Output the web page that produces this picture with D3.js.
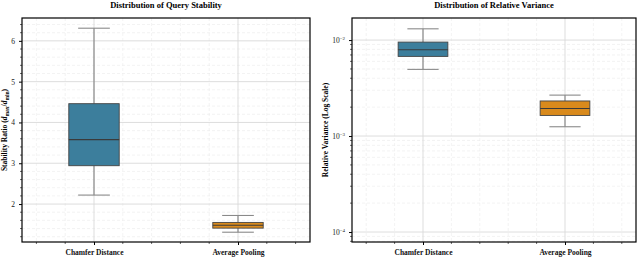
<!DOCTYPE html>
<html><head><meta charset="utf-8">
<script src="https://cdn.jsdelivr.net/npm/d3@7"></script>
<style>body{margin:0;background:#fff}svg{display:block}text{font-family:"Liberation Serif","DejaVu Serif",serif}</style>
</head><body><svg id="c" width="640" height="257"></svg>
<script>
const categories = ["Chamfer Distance", "Average Pooling"];
const colors = ["#3c7e9c", "#d98a1c"];
// [lowerWhisker, Q1, median, Q3, upperWhisker]
const stabilityStats = [[2.22, 2.94, 3.58, 4.46, 6.31], [1.31, 1.41, 1.48, 1.55, 1.72]];
const varianceStats = [[0.00495, 0.00676, 0.00792, 0.00953, 0.0131], [0.00125, 0.00164, 0.00194, 0.00232, 0.00267]];
const stabilityTicks = [2, 3, 4, 5, 6];
const varianceTicks = [1e-4, 1e-3, 1e-2];
const titles = ["Distribution of Query Stability", "Distribution of Relative Variance"];

const svg = d3.select("#c");

function panel(o) {
  const g = svg.append("g");
  const x = d3.scaleLinear().domain([-0.5, 1.5]).range([o.x0, o.x1]);
  const y = o.y;
  d3.range(-0.4, 1.45, 0.2).forEach(v => {
    const vv = Math.round(v * 10) / 10;
    if (Math.abs(vv) < 1e-9 || Math.abs(vv - 1) < 1e-9) return;
    g.append("line").attr("x1", x(vv)).attr("x2", x(vv)).attr("y1", o.y0).attr("y2", o.y1)
      .attr("stroke", "#ebebeb").attr("stroke-width", 0.6).attr("stroke-dasharray", "3,2");
    g.append("line").attr("x1", x(vv)).attr("x2", x(vv)).attr("y1", o.y1).attr("y2", o.y1 + 2)
      .attr("stroke", "#000").attr("stroke-width", 0.6);
  });
  o.minor.forEach(v => {
    g.append("line").attr("x1", o.x0).attr("x2", o.x1).attr("y1", y(v)).attr("y2", y(v))
      .attr("stroke", "#ebebeb").attr("stroke-width", 0.6).attr("stroke-dasharray", "3,2");
    g.append("line").attr("x1", o.x0 - 2).attr("x2", o.x0).attr("y1", y(v)).attr("y2", y(v))
      .attr("stroke", "#000").attr("stroke-width", 0.6);
  });
  o.ticks.forEach(v => {
    g.append("line").attr("x1", o.x0).attr("x2", o.x1).attr("y1", y(v)).attr("y2", y(v))
      .attr("stroke", "#d9d9d9").attr("stroke-width", 0.9);
  });
  [0, 1].forEach(v => {
    g.append("line").attr("x1", x(v)).attr("x2", x(v)).attr("y1", o.y0).attr("y2", o.y1)
      .attr("stroke", "#d9d9d9").attr("stroke-width", 0.9);
  });
  const bw = 0.35, cw = 0.22;
  o.stats.forEach((s, i) => {
    const c = x(i);
    const hw = (x(bw / 2) - x(0));
    const cap = (x(cw / 2) - x(0));
    g.append("line").attr("x1", c).attr("x2", c).attr("y1", y(s[4])).attr("y2", y(s[3])).attr("stroke", "#7a7a7a").attr("stroke-width", 1);
    g.append("line").attr("x1", c).attr("x2", c).attr("y1", y(s[1])).attr("y2", y(s[0])).attr("stroke", "#7a7a7a").attr("stroke-width", 1);
    g.append("line").attr("x1", c - cap).attr("x2", c + cap).attr("y1", y(s[4])).attr("y2", y(s[4])).attr("stroke", "#8a8a8a").attr("stroke-width", 1.1);
    g.append("line").attr("x1", c - cap).attr("x2", c + cap).attr("y1", y(s[0])).attr("y2", y(s[0])).attr("stroke", "#8a8a8a").attr("stroke-width", 1.1);
    g.append("rect").attr("x", c - hw).attr("width", 2 * hw).attr("y", y(s[3])).attr("height", y(s[1]) - y(s[3]))
      .attr("fill", colors[i]).attr("stroke", "#444").attr("stroke-width", 0.9);
    g.append("line").attr("x1", c - hw).attr("x2", c + hw).attr("y1", y(s[2])).attr("y2", y(s[2])).attr("stroke", "#3a3a3a").attr("stroke-width", 1.1);
  });
  g.append("rect").attr("x", o.x0).attr("y", o.y0).attr("width", o.x1 - o.x0).attr("height", o.y1 - o.y0)
    .attr("fill", "none").attr("stroke", "#000").attr("stroke-width", 1.2);
  const ya = d3.axisLeft(y).tickValues(o.ticks).tickSize(3).tickPadding(4).tickFormat(o.fmt);
  const yg = g.append("g").attr("transform", `translate(${o.x0},0)`).call(ya);
  yg.select(".domain").remove();
  yg.selectAll("text").attr("font-size", 7.5).attr("fill", "#222").attr("font-family", "Liberation Serif, serif");
  if (o.sup) {
    yg.selectAll("text").each(function(d) {
      const t = d3.select(this); t.text("");
      t.append("tspan").text("10");
      t.append("tspan").attr("dy", -3).attr("font-size", 5).text("\u2212" + Math.round(-Math.log10(d)));
    });
  }
  const xa = d3.axisBottom(x).tickValues([0, 1]).tickSize(3).tickPadding(5).tickFormat(i => categories[i]);
  const xg = g.append("g").attr("transform", `translate(0,${o.y1})`).call(xa);
  xg.select(".domain").remove();
  xg.selectAll("text").attr("font-size", 7.5).attr("font-weight", "bold").attr("fill", "#111").attr("font-family", "Liberation Serif, serif");
  g.append("text").attr("x", (o.x0 + o.x1) / 2).attr("y", 8).attr("text-anchor", "middle")
    .attr("font-size", 8.5).attr("font-weight", "bold").text(o.title);
  return g;
}

const ys = d3.scaleLinear().domain([1.07, 6.56]).range([242, 18]);
const g1 = panel({x0: 22, x1: 310, y0: 18, y1: 242, y: ys, stats: stabilityStats, ticks: stabilityTicks,
  minor: d3.range(1.2, 6.55, 0.2).map(v => Math.round(v * 10) / 10).filter(v => Math.abs(v - Math.round(v)) > 1e-6),
  fmt: d3.format("d"), title: titles[0]});
const yl = g1.append("text").attr("transform", "translate(7,130) rotate(-90)").attr("text-anchor", "middle")
  .attr("font-size", 7.5).attr("font-weight", "bold");
yl.append("tspan").text("Stability Ratio (");
yl.append("tspan").attr("font-style", "italic").text("d");
yl.append("tspan").attr("font-size", 5.5).attr("dy", 1.5).text("max");
yl.append("tspan").attr("dy", -1.5).text("/");
yl.append("tspan").attr("font-style", "italic").text("d");
yl.append("tspan").attr("font-size", 5.5).attr("dy", 1.5).text("min");
yl.append("tspan").attr("dy", -1.5).text(")");

const yv = d3.scaleLog().domain([Math.pow(10, -4.104), Math.pow(10, -1.77)]).range([242, 18]);
const minorLog = [];
[-5, -4, -3, -2].forEach(e => { for (let k = 2; k <= 9; k++) { const v = k * Math.pow(10, e); if (v > yv.domain()[0] && v < yv.domain()[1]) minorLog.push(v); } });
const g2 = panel({x0: 352, x1: 636, y0: 18, y1: 242, y: yv, stats: varianceStats, ticks: varianceTicks,
  minor: minorLog, fmt: d => d, sup: true, title: titles[1]});
g2.append("text").attr("transform", "translate(328,130) rotate(-90)").attr("text-anchor", "middle")
  .attr("font-size", 7.5).attr("font-weight", "bold").text("Relative Variance (Log Scale)");
</script></body></html>
